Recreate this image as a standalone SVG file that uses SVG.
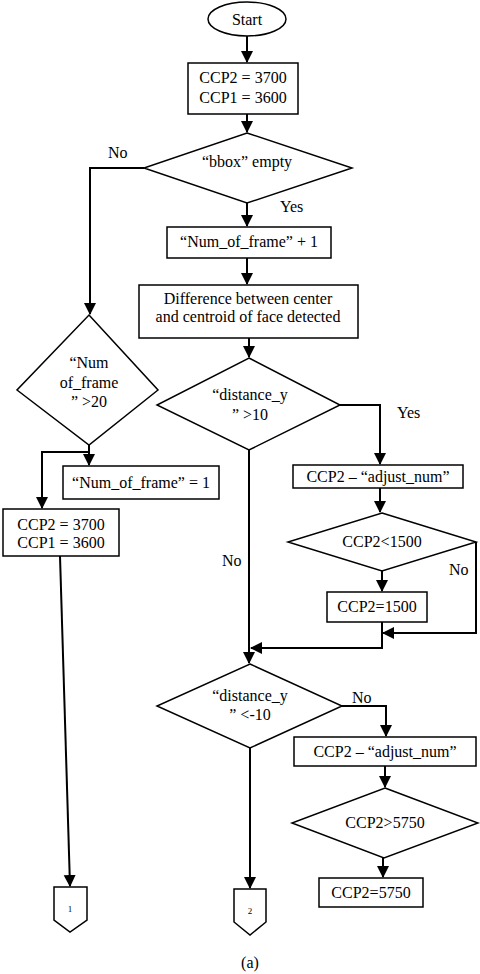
<svg xmlns="http://www.w3.org/2000/svg" width="480" height="974" viewBox="0 0 480 974">
<style>
.s{fill:#fff;stroke:#000;stroke-width:1.5}
.c{fill:none;stroke:#000;stroke-width:2}
text{font-family:'Liberation Serif','DejaVu Serif',serif;font-size:16px;fill:#000;text-anchor:middle}
.l{text-anchor:start}
.sm{font-size:9px}
</style>
<defs>
<marker id="a" markerUnits="userSpaceOnUse" markerWidth="12" markerHeight="14" refX="11" refY="6" orient="auto">
<path d="M0,0 L12,6 L0,12 Z" fill="#000"/>
</marker>
</defs>
<rect width="480" height="974" fill="#fff"/>
<g font-family="Liberation Serif, DejaVu Serif, serif">
<g id="connectors">
<path class="c" d="M247,36 V62" marker-end="url(#a)"/>
<path class="c" d="M247,114 V132" marker-end="url(#a)"/>
<path class="c" d="M144,168 H90 V314" marker-end="url(#a)"/>
<path class="c" d="M247,203 V226" marker-end="url(#a)"/>
<path class="c" d="M247,258 V284" marker-end="url(#a)"/>
<path class="c" d="M249,338 V357" marker-end="url(#a)"/>
<path class="c" d="M340,405 H380 V464" marker-end="url(#a)"/>
<path class="c" d="M380,488 V512" marker-end="url(#a)"/>
<path class="c" d="M382,571 V591" marker-end="url(#a)"/>
<path class="c" d="M476,542 V633 H383" marker-end="url(#a)"/>
<path class="c" d="M382,622 V648 H251" marker-end="url(#a)"/>
<path class="c" d="M249,450 V663" marker-end="url(#a)"/>
<path class="c" d="M342,706 H386 V736" marker-end="url(#a)"/>
<path class="c" d="M385,766 V787" marker-end="url(#a)"/>
<path class="c" d="M383,858 V877" marker-end="url(#a)"/>
<path class="c" d="M250,748 V888" marker-end="url(#a)"/>
<path class="c" d="M89,445 V465" marker-end="url(#a)"/>
<path class="c" d="M89,452 H42 V508" marker-end="url(#a)"/>
<path class="c" d="M60,556 L70,886" marker-end="url(#a)"/>
<text class="l" x="108" y="158">No</text>
<text class="l" x="280" y="212">Yes</text>
<text class="l" x="397" y="418">Yes</text>
<text class="l" x="449" y="575">No</text>
<text class="l" x="222" y="566">No</text>
<text class="l" x="352" y="703">No</text>
</g>
<g id="start"><ellipse class="s" cx="247" cy="19" rx="39" ry="17"/><text x="247" y="25">Start</text></g>
<g id="init"><rect class="s" x="188" y="63" width="110" height="51"/><text x="243" y="83">CCP2 = 3700</text><text x="243" y="103">CCP1 = 3600</text></g>
<g id="bbox"><polygon class="s" points="247,133 352,168 247,203 144,168"/><text x="247" y="167">“bbox” empty</text></g>
<g id="inc"><rect class="s" x="167" y="227" width="164" height="31"/><text x="249" y="247">“Num_of_frame” + 1</text></g>
<g id="diff"><rect class="s" x="139" y="285" width="219" height="53"/><text x="248" y="304">Difference between center</text><text x="248" y="322">and centroid of face detected</text></g>
<g id="dy1"><polygon class="s" points="249,358 340,405 249,450 157,405"/><text x="250" y="400">“distance_y</text><text x="250" y="420">” &gt;10</text></g>
<g id="sub1"><rect class="s" x="293" y="465" width="170" height="23"/><text x="378" y="482">CCP2 – “adjust_num”</text></g>
<g id="lt1500"><polygon class="s" points="382,513 476,542 382,571 288,542"/><text x="382" y="547">CCP2&lt;1500</text></g>
<g id="set1500"><rect class="s" x="327" y="592" width="100" height="30"/><text x="377" y="612">CCP2=1500</text></g>
<g id="dy2"><polygon class="s" points="250,664 342,706 250,748 157,706"/><text x="250" y="701">“distance_y</text><text x="250" y="720">” &lt;-10</text></g>
<g id="sub2"><rect class="s" x="294" y="737" width="182" height="29"/><text x="385" y="757">CCP2 – “adjust_num”</text></g>
<g id="gt5750"><polygon class="s" points="385,788 478,823 384,858 292,823"/><text x="385" y="828">CCP2&gt;5750</text></g>
<g id="set5750"><rect class="s" x="319" y="878" width="104" height="29"/><text x="371" y="898">CCP2=5750</text></g>
<g id="off2"><path class="s" d="M234,889 H266 V922 L250,935 L234,922 Z"/><text class="sm" x="250" y="914">2</text></g>
<g id="nf20"><polygon class="s" points="89,315 158,390 89,445 17,390"/><text x="89" y="368">“Num</text><text x="89" y="388">of_frame</text><text x="89" y="407">” &gt;20</text></g>
<g id="reset"><rect class="s" x="63" y="466" width="156" height="33"/><text x="141" y="488">“Num_of_frame” = 1</text></g>
<g id="init2"><rect class="s" x="3" y="509" width="116" height="47"/><text x="61" y="530">CCP2 = 3700</text><text x="61" y="548">CCP1 = 3600</text></g>
<g id="off1"><path class="s" d="M54,887 H87 V920 L70,932 L54,920 Z"/><text class="sm" x="70" y="912">1</text></g>
<text x="250" y="968">(a)</text>
</g>
</svg>
